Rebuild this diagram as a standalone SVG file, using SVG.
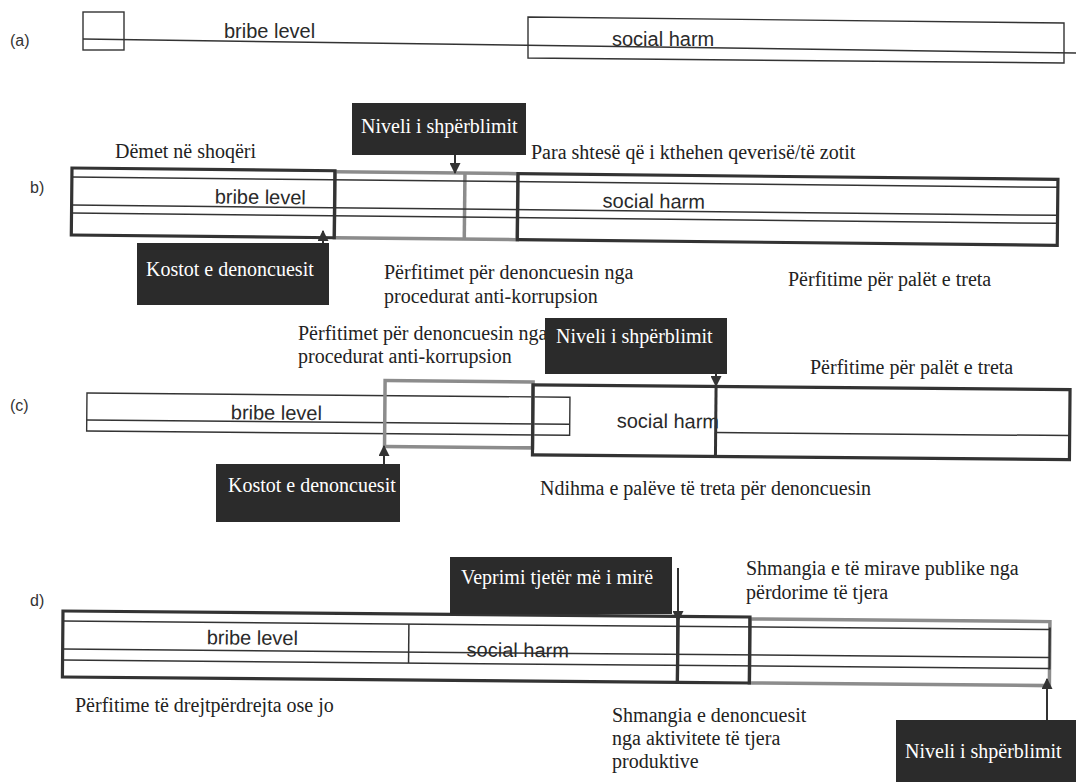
<svg xmlns="http://www.w3.org/2000/svg" width="1076" height="782" viewBox="0 0 1076 782">
<defs>
<marker id="ah" viewBox="0 0 10 10" refX="9" refY="5" markerWidth="5.5" markerHeight="5.5" orient="auto-start-reverse" markerUnits="strokeWidth">
<path d="M0,0 L10,5 L0,10 z" fill="#333"/>
</marker>
<style>
.lbl{font-family:"Liberation Serif","Times New Roman",serif;font-size:20px;fill:#222}
.wl{font-family:"Liberation Serif","Times New Roman",serif;font-size:20px;fill:#fff}
.sans{font-family:"Liberation Sans",Arial,sans-serif;font-size:20px;fill:#2a2a2a}
.tag{font-family:"Liberation Sans",Arial,sans-serif;font-size:16px;fill:#333}
.dk{fill:#2b2b2b}
.thin{fill:none;stroke:#333;stroke-width:1.4}
.thick{fill:none;stroke:#333;stroke-width:3.2}
.gray{fill:none;stroke:#8c8c8c;stroke-width:3.5}
.ln{stroke:#333;stroke-width:1.5;fill:none}
.arr{stroke:#333;stroke-width:2;fill:none;marker-end:url(#ah)}
</style>
</defs>
<rect width="1076" height="782" fill="#fff"/>

<g id="row-a">
<text class="tag" x="10" y="46">(a)</text>
<rect class="thin" x="83" y="12" width="41" height="38"/>
<line class="ln" x1="83" y1="39" x2="1076" y2="53"/>
<text class="sans" x="224" y="38">bribe level</text>
<polygon class="thin" points="528,17 1064,23 1064,63 528,58"/>
<text class="sans" x="612" y="46">social harm</text>
</g>

<g id="row-b">
<text class="tag" x="30" y="193">b)</text>
<text class="lbl" x="115" y="158">Dëmet në shoqëri</text>
<text class="lbl" x="531" y="159">Para shtesë që i kthehen qeverisë/të zotit</text>
<g transform="rotate(0.6 72 168)">
<rect class="gray" x="335" y="169" width="183" height="66"/>
<line x1="465" y1="169" x2="465" y2="235" class="gray"/>
<rect class="thick" x="72" y="168" width="263" height="67"/>
<rect class="thick" x="518" y="169" width="540" height="66"/>
<line class="ln" x1="72" y1="177" x2="1058" y2="177"/>
<line class="ln" x1="72" y1="205" x2="1058" y2="205"/>
<line class="ln" x1="72" y1="213" x2="1058" y2="213"/>
<text class="sans" x="215" y="202">bribe level</text>
<text class="sans" x="603" y="202">social harm</text>
</g>
<text class="lbl" x="384" y="279">Përfitimet për denoncuesin nga</text>
<text class="lbl" x="384" y="303">procedurat anti-korrupsion</text>
<text class="lbl" x="788" y="286">Përfitime për palët e treta</text>
</g>
<g id="node-b-niveli">
<rect class="dk" x="352" y="103" width="174" height="52"/>
<text class="wl" x="361" y="133">Niveli i shpërblimit</text>
</g>
<g id="node-b-kostot">
<rect class="dk" x="137" y="243" width="192" height="62"/>
<text class="wl" x="146" y="276">Kostot e denoncuesit</text>
</g>

<g id="row-c">
<text class="tag" x="10" y="411">(c)</text>
<text class="lbl" x="298" y="340">Përfitimet për denoncuesin nga</text>
<text class="lbl" x="298" y="363">procedurat anti-korrupsion</text>
<text class="lbl" x="810" y="374">Përfitime për palët e treta</text>
<g transform="rotate(0.5 87 391)">
<rect class="thin" x="87" y="393" width="483" height="38"/>
<line class="ln" x1="87" y1="420" x2="570" y2="420"/>
<text class="sans" x="231" y="418">bribe level</text>
<rect class="gray" x="385" y="378" width="148" height="66"/>
<rect class="thick" x="533" y="381" width="537" height="70"/>
<text class="sans" x="617" y="423">social harm</text>
<line x1="716" y1="381" x2="716" y2="451" stroke="#333" stroke-width="3"/>
<line class="ln" x1="716" y1="427" x2="1070" y2="427"/>
</g>
<text class="lbl" x="540" y="495">Ndihma e palëve të treta për denoncuesin</text>
</g>
<g id="node-c-niveli">
<rect class="dk" x="545" y="318" width="182" height="56"/>
<text class="wl" x="556" y="343">Niveli i shpërblimit</text>
</g>
<g id="node-c-kostot">
<rect class="dk" x="216" y="464" width="184" height="58"/>
<text class="wl" x="228" y="492">Kostot e denoncuesit</text>
</g>

<g id="row-d">
<text class="tag" x="30" y="606">d)</text>
<text class="lbl" x="746" y="575">Shmangia e të mirave publike nga</text>
<text class="lbl" x="746" y="599">përdorime të tjera</text>
<g transform="rotate(0.5 63 610)">
<rect class="gray" x="750" y="613" width="300" height="64"/>
<rect class="thick" x="63" y="611" width="615" height="66"/>
<rect class="thick" x="678" y="611" width="72" height="66"/>
<line x1="1050" y1="619" x2="1050" y2="661" stroke="#333" stroke-width="2"/>
<line class="ln" x1="63" y1="621" x2="1050" y2="621"/>
<line class="ln" x1="63" y1="649" x2="1050" y2="649"/>
<line class="ln" x1="63" y1="660" x2="1050" y2="660"/>
<line class="ln" x1="409" y1="621" x2="409" y2="660"/>
<text class="sans" x="207" y="643">bribe level</text>
<text class="sans" x="467" y="653">social harm</text>
</g>
<text class="lbl" x="75" y="712">Përfitime të drejtpërdrejta ose jo</text>
<text class="lbl" x="612" y="722">Shmangia e denoncuesit</text>
<text class="lbl" x="612" y="745">nga aktivitete të tjera</text>
<text class="lbl" x="612" y="768">produktive</text>
</g>
<g id="node-d-veprimi">
<rect class="dk" x="450" y="557" width="222" height="57"/>
<text class="wl" x="461" y="584">Veprimi tjetër më  i mirë</text>
</g>
<g id="node-d-niveli">
<rect class="dk" x="896" y="720" width="180" height="62"/>
<text class="wl" x="905" y="758">Niveli  i shpërblimit</text>
</g>

<g id="connectors">
<line class="arr" x1="455" y1="155" x2="455" y2="173"/>
<line class="arr" x1="323" y1="243" x2="323" y2="231"/>
<line class="arr" x1="716" y1="374" x2="716" y2="386"/>
<line class="arr" x1="384" y1="464" x2="384" y2="446"/>
<line class="arr" x1="678" y1="568" x2="678" y2="621"/>
<line class="arr" x1="1047" y1="720" x2="1047" y2="679"/>
</g>
</svg>
